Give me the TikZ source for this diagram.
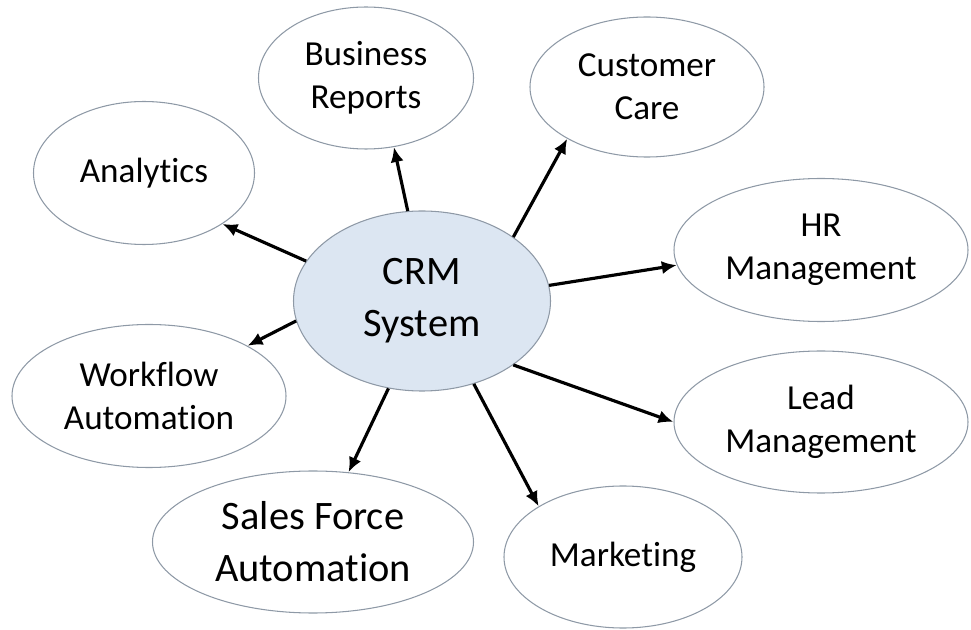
\documentclass[tikz,border=0pt]{standalone}
\usepackage{fontspec}
\setmainfont{Carlito}[Ligatures=NoCommon]
\usetikzlibrary{shapes.geometric, arrows.meta}

\definecolor{crmfill}{HTML}{DCE6F2}
\definecolor{rimgray}{HTML}{8E99A6}

\begin{document}
\begin{tikzpicture}[
	part/.style={ellipse, draw=rimgray, line width=0.6pt, inner sep=0pt, align=center, text=black, font=\fontsize{20}{24.5}\selectfont},
	link/.style={line width=1.8pt, -{Latex[length=8.5pt, width=7.5pt]}}
	]
	
	\useasboundingbox (0, 0) rectangle (19.42, 12.58);
	
	\node[part, fill=crmfill, minimum width=5.14cm, minimum height=3.6cm, font=\fontsize{23}{29.5}\selectfont] (crm) at (8.44, 6.56) {CRM\\System};
	
	\node[part, minimum width=4.3cm, minimum height=2.84cm] (reports) at (7.32, 11.02) {Business\\Reports};
	\node[part, minimum width=4.68cm, minimum height=2.8cm] (care) at (12.94, 10.84) {Customer\\Care};
	\node[part, minimum width=4.42cm, minimum height=2.86cm] (analytics) at (2.88, 9.12) {Analytics};
	\node[part, minimum width=5.88cm, minimum height=2.86cm] (hr) at (16.42, 7.58) {HR\\Management};
	\node[part, minimum width=5.88cm, minimum height=2.84cm] (lead) at (16.42, 4.14) {Lead\\Management};
	\node[part, minimum width=4.76cm, minimum height=2.84cm] (marketing) at (12.46, 1.44) {Marketing};
	\node[part, minimum width=6.42cm, minimum height=2.84cm, font=\fontsize{23}{29.5}\selectfont] (sales) at (6.26, 1.74) {Sales Force\\Automation};
	\node[part, minimum width=5.48cm, minimum height=2.86cm] (workflow) at (2.98, 4.66) {Workflow\\Automation};
	
	\draw[link] (crm.161) -- (analytics.327);
	\draw[link] (crm.99) -- (reports.292);
	\draw[link] (crm.35) -- (care.213);
	\draw[link] (crm.7) -- (hr.186);
	\draw[link] (crm.325) -- (lead.180);
	\draw[link] (crm.302) -- (marketing.149);
	\draw[link] (crm.249) -- (sales.63);
	\draw[link] (crm.189) -- (workflow.27);
	
\end{tikzpicture}
\end{document}
